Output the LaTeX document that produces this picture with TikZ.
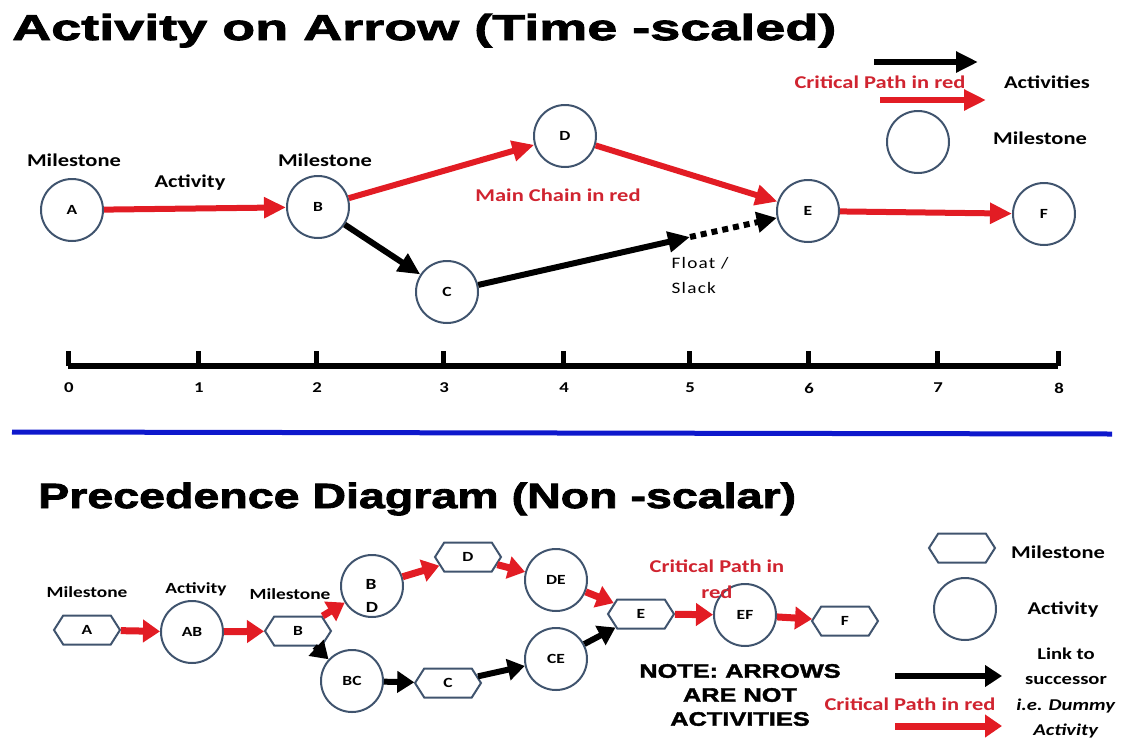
\documentclass[tikz,border=0pt]{standalone}
\usepackage{fontspec}
\setmainfont{Carlito}[FakeStretch=1.25]
\newfontfamily\aoaheadfont{Liberation Sans}[FakeStretch=1.5, BoldFeatures={FakeBold=2.5}]
\newfontfamily\pdmheadfont{Liberation Sans}[FakeStretch=1.33, BoldFeatures={FakeBold=2.5}]
\newfontfamily\notefont{Liberation Sans}[FakeStretch=1.3, BoldFeatures={FakeBold=2}]
\newfontfamily\floatfont{Carlito}[FakeStretch=1.2, LetterSpace=8]
\usetikzlibrary{arrows.meta}
\usetikzlibrary{calc}
\usetikzlibrary{shapes.geometric, shapes.symbols}

\definecolor{critred}{RGB}{226,28,36}
\definecolor{critredtext}{RGB}{208,36,48}
\definecolor{nodeedge}{RGB}{64,84,110}
\definecolor{rulerblue}{RGB}{14,24,204}

\tikzset{
  circnode/.style={circle, draw=nodeedge, line width=2pt, minimum size=62pt, inner sep=0pt, font=\fontsize{14}{16}\selectfont\bfseries},
  hexnode/.style={signal, signal to=east and west, signal pointer angle=115, draw=nodeedge, line width=2pt, minimum width=66pt, minimum height=29pt, inner sep=0pt, font=\fontsize{14}{16}\selectfont\bfseries},
  labeltext/.style={font=\fontsize{18}{20}\selectfont\bfseries},
  smalllabel/.style={font=\fontsize{15.5}{17}\selectfont\bfseries},
  redtext/.style={text=critredtext, font=\fontsize{18}{26}\selectfont\bfseries},
  actarrow/.style={draw=critred, line width=6pt, -{Triangle[length=22pt,width=20pt]}},
  blackarrow/.style={draw=black, line width=6pt, -{Triangle[length=22pt,width=20pt]}},
  linkred/.style={draw=critred, line width=7pt, -{Triangle[length=17pt,width=22pt]}},
  linkblack/.style={draw=black, line width=6pt, -{Triangle[length=17pt,width=21pt]}}
}

\begin{document}
\begin{tikzpicture}[x=1pt, y=-1pt]
  \useasboundingbox (0,0) rectangle (1128,740);
  \newcommand{\aoarulery}{366}
  \newcommand{\aoaticktop}{351}

  % --- activity on arrow ---
  \node[font=\aoaheadfont\fontsize{36}{40}\selectfont\bfseries, anchor=base west, inner sep=0pt] (aoatitle) at (12,40) {Activity on Arrow (Time -scaled)};

  \node[circnode] (A) at (72,210) {A};
  \node[circnode] (B) at (318,207) {B};
  \node[circnode] (C) at (447,292) {C};
  \node[circnode] (D) at (565,136) {D};
  \node[circnode] (E) at (808,211) {E};
  \node[circnode] (F) at (1044,214) {F};

  \node[labeltext] (msa) at (74,160) {Milestone};
  \node[labeltext] (msb) at (325,160) {Milestone};
  \node[labeltext] (actab) at (190,183) {Activity};
  \node[redtext] (mainchain) at (558,195) {Main Chain in red};
  \node[font=\floatfont\fontsize{16}{25}\selectfont, align=left, anchor=north west] (floatlab) at (668,254) {Float /\\Slack};

  \coordinate (floatend) at (690,237);
  \draw[actarrow] (A) -- (B);
  \draw[actarrow] (B) -- (D);
  \draw[actarrow] (D) -- (E);
  \draw[actarrow] (E) -- (F);
  \draw[blackarrow] (B) -- (C);
  \draw[blackarrow] (C) -- (floatend);
  \draw[draw=black, line width=6pt, dash pattern=on 6pt off 5pt, -{Triangle[length=20pt,width=20pt]}] (floatend) -- (E);

  % legend
  \coordinate (legblka) at (874,62);
  \coordinate (legblkb) at (978,62);
  \coordinate (legreda) at (880,100);
  \coordinate (legredb) at (986,100);
  \draw[blackarrow] (legblka) -- (legblkb);
  \draw[actarrow] (legreda) -- (legredb);
  \node[redtext] (legcrit) at (880,82) {Critical Path in red};
  \node[labeltext] (legact) at (1047,82) {Activities};
  \node[circnode] (legcirc) at (918,142) {};
  \node[labeltext] (legms) at (1040,138) {Milestone};

  % time scale
  \draw[line width=6pt] (68,\aoarulery) -- (1058,\aoarulery);
  \foreach \tickx/\ticklab in {68/0,198/1,316/2,443/3,563/4,689/5,808/6,937/7,1058/8}{
    \draw[line width=5pt] (\tickx,\aoarulery) -- (\tickx,\aoaticktop);
    \node[font=\fontsize{15}{17}\selectfont\bfseries] (tick\ticklab) at (\tickx+1,388) {\ticklab};
  }

  \draw[rulerblue, line width=5pt] (12,432) -- (1112,434);

  % --- precedence diagram ---
  \node[font=\pdmheadfont\fontsize{35}{40}\selectfont\bfseries, anchor=base west, inner sep=0pt] (pdmtitle) at (38,508) {Precedence Diagram (Non -scalar)};

  \node[hexnode] (pA) at (87,630) {A};
  \node[circnode] (pAB) at (192,632) {AB};
  \node[hexnode] (pB) at (298,631) {B};
  \node[circnode] (pBD) at (372,586) {};
  \node[smalllabel] (pBDb) at (371,584) {B};
  \node[smalllabel] (pBDd) at (372,607) {D};
  \node[hexnode] (pD) at (468,557) {D};
  \node[circnode] (pDE) at (556,580) {DE};
  \node[circnode] (pBC) at (352,681) {BC};
  \node[hexnode] (pC) at (448,683) {C};
  \node[circnode] (pCE) at (556,659) {CE};
  \node[hexnode] (pE) at (641,614) {E};
  \node[circnode] (pEF) at (745,615) {EF};
  \node[hexnode] (pF) at (845,621) {F};

  \node[smalllabel] (pmsa) at (87,592) {Milestone};
  \node[smalllabel] (pactab) at (196,589) {Activity};
  \node[smalllabel] (pmsb) at (290,594) {Milestone};
  \node[redtext, align=center] (pcrit) at (717,579) {Critical Path in\\red};

  \draw[linkred] (pA) -- (pAB);
  \draw[linkred] (pAB) -- (pB);
  \draw[linkred] (pB) -- (pBD);
  \draw[linkred] (pBD) -- (pD);
  \draw[linkred] (pD) -- (pDE);
  \draw[linkred] (pDE) -- (pE);
  \draw[linkred] (pE) -- (pEF);
  \draw[linkred] (pEF) -- (pF);
  \draw[linkblack] (pB) -- (pBC);
  \draw[linkblack] (pBC) -- (pC);
  \draw[linkblack] (pC) -- (pCE);
  \draw[linkblack] (pCE) -- (pE);

  % legend
  \node[hexnode] (leghex) at (962,548) {};
  \node[labeltext] (leghexlab) at (1058,552) {Milestone};
  \node[circnode] (legact2) at (965,609) {};
  \node[labeltext] (legactlab) at (1063,610) {Activity};
  \node[font=\notefont\fontsize{19.5}{24}\selectfont\bfseries, align=center] (note) at (740,695) {NOTE: ARROWS\\ARE NOT\\ACTIVITIES};
  \coordinate (linka) at (895,676);
  \coordinate (linkb) at (1002,676);
  \coordinate (linkc) at (895,726);
  \coordinate (linkd) at (1002,726);
  \draw[linkblack] (linka) -- (linkb);
  \draw[linkred] (linkc) -- (linkd);
  \node[redtext] (linkcrit) at (910,704) {Critical Path in red};
  \node[font=\fontsize{16.5}{25.5}\selectfont\bfseries, align=center] (linklab) at (1066,693) {Link to\\successor\\\textit{i.e. Dummy}\\\textit{Activity}};
\end{tikzpicture}
\end{document}
